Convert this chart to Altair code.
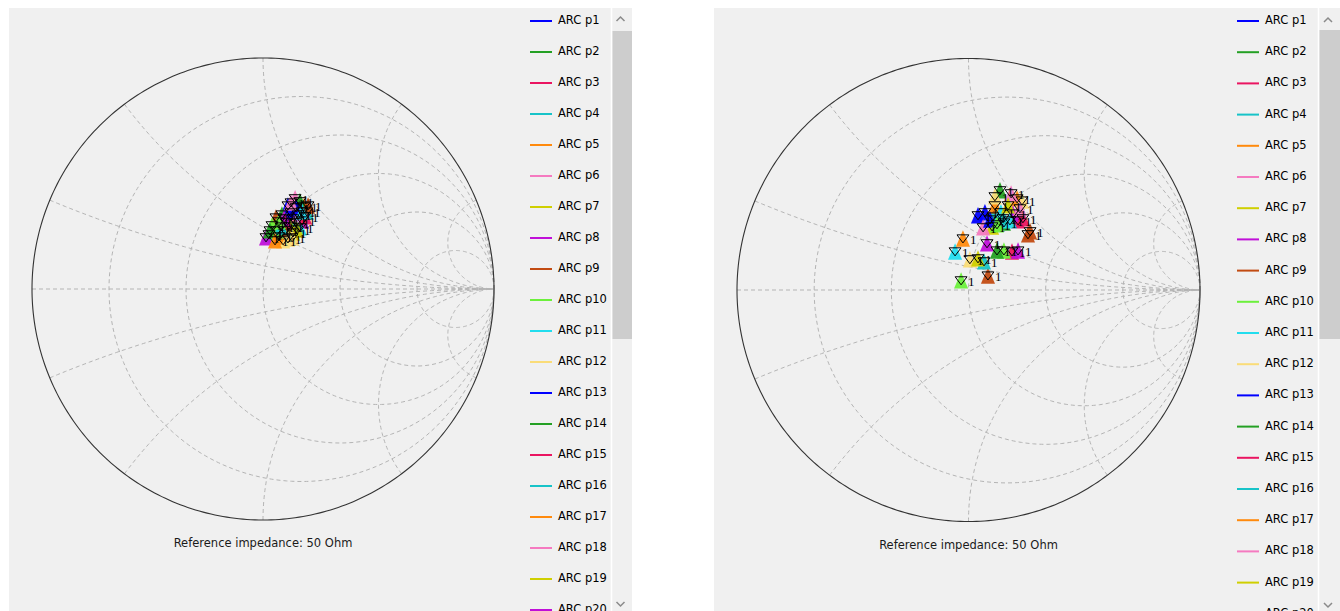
import altair as alt
import numpy as np
import pandas as pd

# ---- series definitions -------------------------------------------------
SERIES = [f"ARC p{i}" for i in range(1, 37)]
PALETTE = ["#0000ff", "#24a024", "#ea1561", "#17c3c8", "#ff8a0d", "#f57ac0",
           "#cfcf00", "#c010d8", "#c24b12", "#6cf03c", "#22ddee", "#fadc78"]
COLORS = [PALETTE[i % len(PALETTE)] for i in range(len(SERIES))]

# reflection coefficient (real / imaginary) of marker 1 for each series
LEFT_RE = [0.108, 0.082, 0.130, 0.143, 0.177, 0.139, 0.117, 0.169, 0.056, 0.039,
           0.026, 0.087, 0.121, 0.160, 0.100, 0.190, 0.069, 0.152, 0.130, 0.013,
           0.095, 0.061, 0.160, 0.108, 0.143, 0.030, 0.182, 0.078, 0.052, 0.121,
           0.147, 0.091, 0.195, 0.069, 0.169, 0.126]
LEFT_IM = [0.359, 0.320, 0.303, 0.286, 0.355, 0.390, 0.268, 0.294, 0.307, 0.273,
           0.234, 0.208, 0.329, 0.377, 0.286, 0.333, 0.225, 0.320, 0.242, 0.221,
           0.251, 0.251, 0.264, 0.216, 0.351, 0.251, 0.312, 0.268, 0.208, 0.372,
           0.255, 0.303, 0.359, 0.290, 0.333, 0.221]

RIGHT_RE = [0.041, 0.136, 0.214, 0.106, 0.210, 0.184, 0.102, 0.192, 0.084, -0.032,
            -0.058, 0.006, 0.071, 0.153, 0.188, 0.067, 0.114, 0.063, 0.041, 0.080,
            0.257, 0.153, 0.140, 0.231, 0.093, 0.123, 0.235, 0.149, -0.024, 0.222,
            0.171, 0.214, 0.266, 0.123, 0.179, 0.114]
RIGHT_IM = [0.320, 0.428, 0.298, 0.315, 0.393, 0.415, 0.272, 0.328, 0.060, 0.039,
            0.164, 0.130, 0.333, 0.289, 0.164, 0.121, 0.363, 0.268, 0.134, 0.199,
            0.238, 0.168, 0.333, 0.384, 0.302, 0.168, 0.307, 0.307, 0.220, 0.350,
            0.363, 0.168, 0.251, 0.281, 0.298, 0.402]

MARKER_LABEL = "1"
CAPTION = "Reference impedance: 50 Ohm"

# Smith chart grid values
R_CIRCLES = [0.2, 0.5, 1, 2, 5]
X_ARCS = [0.2, 0.5, 1, 2, 5]

BG = "#f0f0f0"
FONT = "DejaVu Sans"


def grid_table():
    rows = []
    t = np.linspace(0, 2 * np.pi, 241)
    for r in R_CIRCLES:
        c, rad = r / (1 + r), 1 / (1 + r)
        for k, tt in enumerate(t):
            rows.append((f"r{r}", k, c + rad * np.cos(tt), rad * np.sin(tt)))
    for x in X_ARCS:
        g0 = complex(-1, x) / complex(1, x)
        a0 = np.arctan2(g0.imag - 1 / x, g0.real - 1)
        if a0 > 0:
            a0 -= 2 * np.pi
        for sign in (1, -1):
            for k, a in enumerate(np.linspace(a0, -np.pi / 2, 161)):
                rows.append((f"x{sign * x}", k, 1 + np.cos(a) / x,
                             sign * (1 / x + np.sin(a) / x)))
    rows.append(("axis", 0, -1.0, 0.0))
    rows.append(("axis", 1, 1.0, 0.0))
    return pd.DataFrame(rows, columns=["curve", "i", "gx", "gy"])


def outline_table():
    t = np.linspace(0, 2 * np.pi, 361)
    return pd.DataFrame({"curve": "unit", "i": np.arange(len(t)),
                         "gx": np.cos(t), "gy": np.sin(t)})


GRID = grid_table()
OUTLINE = outline_table()

TRI_UP = "M0,-1.1L-0.88,0.95L0.88,0.95Z"
TRI_DOWN = "M-0.85,-0.6L0.85,-0.6L0,0.55Z"


def panel(re, im, width, height, cx, cy, radius, sb_x0, sb_x1, sep_x,
          arrow_x, arrow_up_y, arrow_dn_y, thumb_y0, thumb_y1,
          leg_x, leg_y0, leg_step, cap_x, cap_y):
    xdom = [-cx / radius, (width - cx) / radius]
    ydom = [-(height - cy) / radius, cy / radius]
    X = alt.X("gx:Q", scale=alt.Scale(domain=xdom, nice=False, zero=False), axis=None)
    Y = alt.Y("gy:Q", scale=alt.Scale(domain=ydom, nice=False, zero=False), axis=None)
    series_color = alt.Color("series:N", scale=alt.Scale(domain=SERIES, range=COLORS),
                             legend=None)

    pts = pd.DataFrame({"series": SERIES, "gx": re, "gy": im})
    one = pd.DataFrame({"k": [0]})

    grid = alt.Chart(GRID).mark_line(
        stroke="#b4b4b4", strokeWidth=1, strokeDash=[4, 3]
    ).encode(x=X, y=Y, detail="curve:N", order="i:Q")

    outline = alt.Chart(OUTLINE).mark_line(
        stroke="#333333", strokeWidth=1.1
    ).encode(x=X, y=Y, order="i:Q")

    up = alt.Chart(pts).mark_point(
        shape=TRI_UP, filled=True, size=256, opacity=0.95, strokeWidth=0
    ).encode(x=X, y=Y, color=series_color)

    down = alt.Chart(pts).mark_point(
        shape=TRI_DOWN, filled=False, size=196, stroke="black", strokeWidth=1,
        opacity=1
    ).encode(x=X, y=Y)

    labels = alt.Chart(pts).mark_text(
        text=MARKER_LABEL, align="left", baseline="middle", dx=7, dy=1,
        font="Liberation Serif", fontSize=13, color="black"
    ).encode(x=X, y=Y)

    # scrolling legend list: one row per series, laid out in pixel units,
    # only the rows that fall inside the panel's viewport are shown
    LY = alt.Y("ly:Q", scale=alt.Scale(domain=[height, 0], nice=False, zero=False),
               axis=None)
    leg = alt.Chart(pd.DataFrame({"series": SERIES, "row": range(len(SERIES))})
                    ).transform_calculate(
        ly=f"{leg_y0} + {leg_step} * datum.row"
    ).transform_filter(f"datum.ly < {height}")
    leg_lines = leg.mark_rule(strokeWidth=2, clip=True).encode(
        x=alt.value(leg_x), x2=alt.value(leg_x + 22), y=LY, color=series_color)
    leg_text = leg.mark_text(
        align="left", baseline="middle", font=FONT, fontSize=11.5, color="#000000",
        clip=True
    ).encode(x=alt.value(leg_x + 28), y=LY, text="series:N")

    caption = alt.Chart(one).mark_text(
        text=CAPTION, font=FONT, fontSize=11.5, color="#1a1a1a",
        align="center", baseline="middle"
    ).encode(x=alt.value(cap_x), y=alt.value(cap_y))

    track = alt.Chart(one).mark_rect(color=BG).encode(
        x=alt.value(sb_x0), x2=alt.value(sb_x1), y=alt.value(0), y2=alt.value(height))
    sep = alt.Chart(one).mark_rule(color="white", strokeWidth=1.5).encode(
        x=alt.value(sep_x), y=alt.value(0), y2=alt.value(height))
    thumb = alt.Chart(one).mark_rect(color="#cdcdcd").encode(
        x=alt.value(sb_x0 + 0.5), x2=alt.value(sb_x1), y=alt.value(thumb_y0),
        y2=alt.value(thumb_y1))
    arrow_up = alt.Chart(one).mark_point(
        shape="M-1,0.5L0,-0.5L1,0.5", size=64, filled=False,
        stroke="#606060", strokeWidth=1.5
    ).encode(x=alt.value(arrow_x), y=alt.value(arrow_up_y))
    arrow_dn = alt.Chart(one).mark_point(
        shape="M-1,-0.5L0,0.5L1,-0.5", size=64, filled=False,
        stroke="#606060", strokeWidth=1.5
    ).encode(x=alt.value(arrow_x), y=alt.value(arrow_dn_y))

    return alt.layer(
        grid, outline, up, down, labels, leg_lines, leg_text, caption,
        track, sep, thumb, arrow_up, arrow_dn
    ).resolve_scale(y="independent").properties(width=width, height=height)


left = panel(LEFT_RE, LEFT_IM, width=623, height=612, cx=254, cy=281, radius=231,
             sb_x0=603, sb_x1=623, sep_x=602.5, arrow_x=611.5,
             arrow_up_y=11, arrow_dn_y=596, thumb_y0=23, thumb_y1=331,
             leg_x=521, leg_y0=13, leg_step=31, cap_x=254, cap_y=536)

right = panel(RIGHT_RE, RIGHT_IM, width=626, height=612, cx=254.5, cy=282,
              radius=231.5, sb_x0=605, sb_x1=626, sep_x=604.5, arrow_x=614,
              arrow_up_y=12, arrow_dn_y=597, thumb_y0=22, thumb_y1=331,
              leg_x=523, leg_y0=13, leg_step=31.2, cap_x=254.5, cap_y=538)

chart = alt.hconcat(left, right, spacing=82).resolve_scale(
    x="independent", y="independent", color="independent"
).properties(
    padding={"left": 9, "top": 7, "right": 0, "bottom": 0},
    background="white",
).configure_view(fill=BG, stroke=None)

chart.save("out.html", embed_options={"renderer": "svg", "actions": False})
